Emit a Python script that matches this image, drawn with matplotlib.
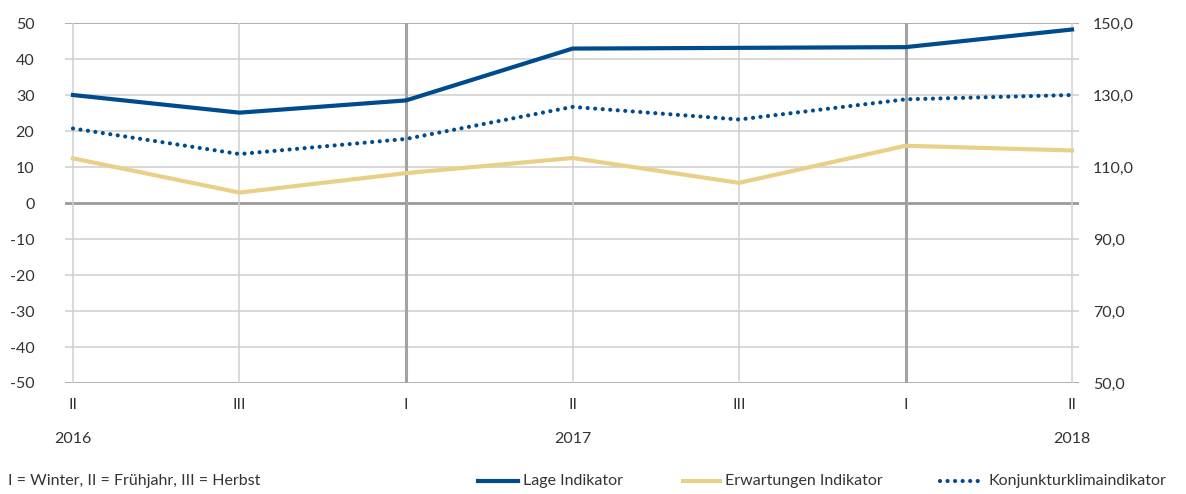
import matplotlib.pyplot as plt
from matplotlib.lines import Line2D

plt.rcParams['font.family'] = ['Lato', 'DejaVu Sans']
plt.rcParams['axes.unicode_minus'] = False

# Daten
quartale = ['II', 'III', 'I', 'II', 'III', 'I', 'II']
jahre = {0: '2016', 3: '2017', 6: '2018'}
lage = [30.0, 25.1, 28.5, 42.9, 43.1, 43.3, 48.2]
erwartungen = [12.4, 2.9, 8.3, 12.5, 5.6, 15.9, 14.6]
klima = [120.7, 113.6, 117.8, 126.7, 123.2, 128.8, 130.0]

blau = '#004b8d'
gelb = '#e9d089'
fs = 11.5
x = list(range(len(quartale)))

fig = plt.figure(figsize=(11.86, 4.94), dpi=100)
ax = fig.add_axes([0.0548, 0.2247, 0.855, 0.7287])
ax2 = ax.twinx()

ax.set_xlim(-0.048, 6.042)
ax.set_ylim(-50, 50)
ax2.set_ylim(50, 150)

# Gitter
for v in range(-40, 50, 10):
    if v == 0:
        ax.axhline(v, color='#9a9a9a', lw=2, zorder=1)
    else:
        ax.axhline(v, color='#d6d6d6', lw=1.3, zorder=1)
ax.axhline(50, color='#a8a8a8', lw=1.3, zorder=1)
ax.axhline(-50, color='#a8a8a8', lw=1.3, zorder=1)
for i, q in enumerate(quartale):
    if q == 'I':
        ax.axvline(i, color='#a3a3a3', lw=2.2, zorder=1)
    else:
        ax.axvline(i, color='#cfcfcf', lw=1.1, zorder=1)

for s in list(ax.spines.values()) + list(ax2.spines.values()):
    s.set_visible(False)

ax.plot(x, lage, color=blau, lw=3, solid_joinstyle='miter', zorder=3)
ax.plot(x, erwartungen, color=gelb, lw=3, zorder=3)
ax2.plot(x, klima, color=blau, lw=3, linestyle=(0, (0.01, 1.8)),
         dash_capstyle='round', zorder=3)

ax.set_yticks(range(-50, 60, 10))
ax.tick_params(axis='y', length=0, pad=22, labelsize=fs, labelcolor='#333333')
ax2.set_yticks(range(50, 160, 20))
ax2.set_yticklabels([f'{v},0' for v in range(50, 160, 20)])
ax2.tick_params(axis='y', length=0, pad=10, labelsize=fs, labelcolor='#333333')

ax.set_xticks(x)
ax.set_xticklabels(quartale)
ax.tick_params(axis='x', length=0, pad=11, labelsize=fs, labelcolor='#333333')
for i, j in jahre.items():
    ax.annotate(j, xy=(i, 0), xycoords=('data', 'axes fraction'),
                xytext=(0, -40), textcoords='offset points',
                ha='center', va='center', fontsize=fs, color='#333333')

# Fußzeile und Legende
y_leg = 1 - 481 / 494
fig.text(8 / 1186, y_leg, 'I = Winter, II = Frühjahr, III = Herbst',
         ha='left', va='center', fontsize=fs, color='#333333')
legende = [
    (478, 518, '-', blau, 'Lage Indikator'),
    (683, 720, '-', gelb, 'Erwartungen Indikator'),
    (940, 984, (0, (0.01, 1.8)), blau, 'Konjunkturklimaindikator'),
]
for x0, x1, ls, c, txt in legende:
    fig.add_artist(Line2D([x0 / 1186, x1 / 1186], [y_leg, y_leg], color=c,
                          lw=3, linestyle=ls, dash_capstyle='round',
                          transform=fig.transFigure))
    fig.text((x1 + 5) / 1186, y_leg, txt, ha='left', va='center',
             fontsize=fs, color='#333333')

fig.savefig('out.png', dpi=100)
